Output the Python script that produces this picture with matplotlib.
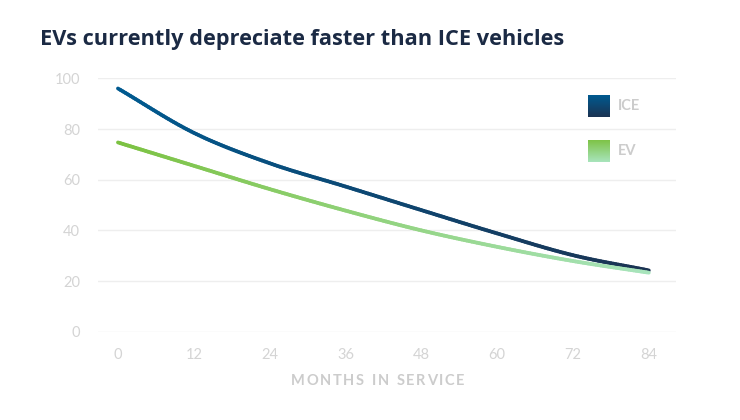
#!/usr/bin/env python3
"""EV vs ICE residual value chart with gradient lines."""

import matplotlib
matplotlib.use("Agg")
import matplotlib.pyplot as plt
import numpy as np
from matplotlib.collections import LineCollection
from matplotlib.colors import LinearSegmentedColormap

months = [0, 12, 24, 36, 48, 60, 72, 84]
ice_values = [96, 78.5, 66.5, 57.3, 48, 38.8, 30.2, 24.2]
ev_values = [74.7, 65.5, 56.3, 47.8, 40, 33.5, 27.9, 23.3]
y_ticks = [0, 20, 40, 60, 80, 100]

title = "EVs currently depreciate faster than ICE vehicles"
x_label = "MONTHS IN SERVICE"

ice_cmap = LinearSegmentedColormap.from_list("ice", ["#005a90", "#1b3352"])
ev_cmap = LinearSegmentedColormap.from_list("ev", ["#7cc242", "#a8e4bc"])

TICK_GREY = "#d4d4d4"
GRID_GREY = "#eeeeee"


def smooth(x, y, n=30):
    # catmull-rom through the given points, only for drawing
    x = np.asarray(x, float)
    y = np.asarray(y, float)
    px = np.concatenate([[2 * x[0] - x[1]], x, [2 * x[-1] - x[-2]]])
    py = np.concatenate([[2 * y[0] - y[1]], y, [2 * y[-1] - y[-2]]])
    xs, ys = [], []
    t = np.linspace(0, 1, n, endpoint=False)
    for i in range(1, len(px) - 2):
        for p, out in ((px, xs), (py, ys)):
            p0, p1, p2, p3 = p[i - 1], p[i], p[i + 1], p[i + 2]
            out.append(0.5 * (2 * p1 + (-p0 + p2) * t + (2 * p0 - 5 * p1 + 4 * p2 - p3) * t ** 2
                              + (-p0 + 3 * p1 - 3 * p2 + p3) * t ** 3))
    xs = np.concatenate(xs + [[x[-1]]])
    ys = np.concatenate(ys + [[y[-1]]])
    return xs, ys


def gradient_line(ax, x, y, cmap, lw=2.7):
    xs, ys = smooth(x, y)
    pts = np.column_stack([xs, ys]).reshape(-1, 1, 2)
    segs = np.concatenate([pts[:-1], pts[1:]], axis=1)
    lc = LineCollection(segs, cmap=cmap, linewidths=lw, capstyle="round", joinstyle="round", zorder=3)
    lc.set_array((xs[:-1] - xs[0]) / (xs[-1] - xs[0]))
    ax.add_collection(lc)


def gradient_square(fig, x, y, w, h, cmap):
    ax = fig.add_axes([x, y, w, h])
    grad = np.linspace(0, 1, 64).reshape(-1, 1)
    ax.imshow(grad, aspect="auto", cmap=cmap.reversed(), origin="lower")
    ax.axis("off")


def tracked_text(fig, cx, y, s, spacing, **kw):
    # draw text with extra letter spacing (pixels), centred on cx (pixels)
    r = fig.canvas.get_renderer()
    widths = []
    for ch in s:
        t = fig.text(0, 0, ch if ch != " " else "n", **kw)
        widths.append(t.get_window_extent(r).width * (0.55 if ch == " " else 1))
        t.remove()
    total = sum(widths) + spacing * (len(s) - 1)
    x = cx - total / 2
    W, H = fig.bbox.width, fig.bbox.height
    for ch, w in zip(s, widths):
        if ch != " ":
            fig.text(x / W, 1 - y / H, ch, va="center", ha="left", **kw)
        x += w + spacing


def main():
    plt.rcParams["font.family"] = ["Lato", "DejaVu Sans"]
    fig = plt.figure(figsize=(7.4, 4.2), dpi=100)
    ax = fig.add_axes([0.1324, 0.2102, 0.7811, 0.6033])

    gradient_line(ax, months, ice_values, ice_cmap)
    gradient_line(ax, months, ev_values, ev_cmap)

    ax.set_xlim(-3.16, 88.3)
    ax.set_ylim(0, 100)
    ax.set_xticks(months)
    ax.set_yticks(y_ticks)
    ax.grid(axis="y", color=GRID_GREY, lw=1)
    ax.set_axisbelow(True)
    for s in ax.spines.values():
        s.set_visible(False)
    ax.tick_params(length=0, colors=TICK_GREY, labelsize=10.5)
    ax.tick_params(axis="y", pad=13)
    ax.tick_params(axis="x", pad=12)

    tracked_text(fig, 377.5, 381, x_label, 1.6, fontsize=10.5, fontweight="bold", color="#cccccc")

    fig.text(0.054, 0.907, title, fontsize=15.7, fontweight="bold", color="#1b2a44", va="center",
             family=["Open Sans", "DejaVu Sans"])

    # legend with gradient swatches
    gradient_square(fig, 588 / 740, 1 - 117 / 420, 22 / 740, 22 / 420, ice_cmap)
    gradient_square(fig, 588 / 740, 1 - 162 / 420, 22 / 740, 22 / 420, ev_cmap)
    fig.text(618 / 740, 1 - 106 / 420, "ICE", fontsize=10.5, fontweight="bold", color="#cccccc", va="center")
    fig.text(618 / 740, 1 - 151 / 420, "EV", fontsize=10.5, fontweight="bold", color="#cccccc", va="center")

    fig.savefig("out.png", dpi=100)
    plt.close(fig)


if __name__ == "__main__":
    main()
